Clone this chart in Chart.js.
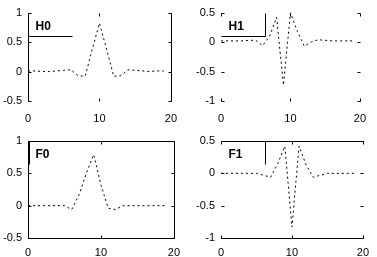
<!DOCTYPE html>
<html>
<head>
<meta charset="utf-8">
<script src="https://cdn.jsdelivr.net/npm/chart.js@4/dist/chart.umd.min.js"></script>
<style>
  html, body { margin: 0; padding: 0; background: #fff; }
  #wrap { position: relative; width: 377px; height: 257px; overflow: hidden; }
  canvas { position: absolute; }
</style>
</head>
<body>
<div id="wrap">
  <canvas id="c-h0" width="188" height="128" style="left:0;top:0"></canvas>
  <canvas id="c-h1" width="189" height="128" style="left:188px;top:0"></canvas>
  <canvas id="c-f0" width="188" height="129" style="left:0;top:128px"></canvas>
  <canvas id="c-f1" width="189" height="129" style="left:188px;top:128px"></canvas>
</div>
<script>
// ==========================================
// Data
// ==========================================

const taps = [0, 1, 2, 3, 4, 5, 6, 7, 8, 9, 10, 11, 12, 13, 14, 15, 16, 17, 18, 19];

const h0 = [0.01, 0.01, 0, 0, 0.01, 0.02, 0.03, -0.07, -0.08, 0.38, 0.82, 0.38, -0.08, -0.07, 0.03, 0.02, 0.01, 0, 0.01, 0.01];
const h1 = [0.02, 0.02, 0.02, 0.02, 0.03, 0.03, -0.06, 0.1, 0.42, -0.73, 0.5, 0.18, -0.07, 0, 0.04, 0.03, 0.02, 0.02, 0.02, 0.02];
const f0 = [0, 0, 0, 0, 0, 0, -0.06, 0.17, 0.5, 0.79, 0.32, -0.04, -0.06, 0, 0, 0, 0, 0, 0, 0];
const f1 = [0, 0, 0, 0, 0, 0, -0.03, -0.06, 0.15, 0.42, -0.83, 0.42, 0.13, -0.06, -0.03, 0, 0, 0, 0, 0];

const xTicks = [0, 10, 20];
const yTicksLow = [-0.5, 0, 0.5, 1];
const yTicksHigh = [-1, -0.5, 0, 0.5];

// ==========================================
// Frame, inward ticks and boxed label
// ==========================================

function line(ctx, x1, y1, x2, y2) {
    ctx.beginPath();
    ctx.moveTo(x1, y1);
    ctx.lineTo(x2, y2);
    ctx.stroke();
}

const framePlugin = {
    id: 'frame',
    afterDraw(chart, args, opts) {
        const ctx = chart.ctx;
        const a = chart.chartArea;
        const L = Math.round(a.left) + 0.5;
        const R = Math.round(a.right) + 0.5;
        const T = Math.round(a.top) + 0.5;
        const B = Math.round(a.bottom) + 0.5;
        const tl = 3;

        ctx.save();
        ctx.strokeStyle = '#000';
        ctx.lineWidth = 1;
        ctx.setLineDash([]);

        if (opts.sides.includes('left')) line(ctx, L, T, L, B);
        if (opts.sides.includes('right')) line(ctx, R, T, R, B);
        if (opts.sides.includes('top')) line(ctx, L, T, R, T);
        if (opts.sides.includes('bottom')) line(ctx, L, B, R, B);

        chart.scales.y.ticks.forEach(function (t) {
            const y = Math.round(chart.scales.y.getPixelForValue(t.value)) + 0.5;
            line(ctx, L, y, L + tl, y);
            line(ctx, R, y, R - tl, y);
        });
        chart.scales.x.ticks.forEach(function (t) {
            const x = Math.round(chart.scales.x.getPixelForValue(t.value)) + 0.5;
            line(ctx, x, T, x, T + tl);
            line(ctx, x, B, x, B - tl);
        });

        // label box in the top left corner
        const bw = 44, bh = 23;
        if (opts.box.includes('left')) { ctx.lineWidth = 2; line(ctx, L + 0.5, T, L + 0.5, T + bh); ctx.lineWidth = 1; }
        if (opts.box.includes('right')) line(ctx, L + bw, T, L + bw, T + bh);
        if (opts.box.includes('bottom')) line(ctx, L, T + bh, L + bw, T + bh);

        ctx.fillStyle = '#000';
        ctx.font = 'bold 12px "Liberation Sans", Arial, sans-serif';
        ctx.textAlign = 'left';
        ctx.textBaseline = 'middle';
        ctx.fillText(opts.label, L + 7, T + 13);
        ctx.restore();
    }
};

// ==========================================
// Chart Setup
// ==========================================

Chart.defaults.font.family = '"Liberation Sans", Arial, sans-serif';
Chart.defaults.font.size = 11;
Chart.defaults.color = '#000';

function createPanel(id, values, yTicks, panel) {
    const ctx = document.getElementById(id).getContext('2d');
    return new Chart(ctx, {
        type: 'line',
        data: {
            labels: taps,
            datasets: [{
                data: taps.map(function (x, i) { return { x: x, y: values[i] }; }),
                borderColor: '#000',
                borderWidth: 1,
                borderDash: [2, 3],
                pointRadius: 0,
                tension: 0,
                fill: false
            }]
        },
        options: {
            responsive: false,
            animation: false,
            layout: { padding: { top: panel.top, right: panel.right, left: 0, bottom: 0 } },
            plugins: {
                legend: { display: false },
                tooltip: { enabled: false },
                frame: { sides: panel.sides, box: panel.box, label: panel.label }
            },
            scales: {
                x: {
                    type: 'linear',
                    min: 0,
                    max: 20,
                    grid: { display: false, drawTicks: false },
                    border: { display: false },
                    afterBuildTicks: function (s) { s.ticks = xTicks.map(function (v) { return { value: v }; }); },
                    ticks: { padding: panel.xpad, maxRotation: 0, callback: function (v) { return String(v); } },
                    afterFit: function (s) { s.height = panel.xh; }
                },
                y: {
                    type: 'linear',
                    min: yTicks[0],
                    max: yTicks[yTicks.length - 1],
                    grid: { display: false, drawTicks: false },
                    border: { display: false },
                    afterBuildTicks: function (s) { s.ticks = yTicks.map(function (v) { return { value: v }; }); },
                    ticks: { padding: 6, callback: function (v) { return String(v); } },
                    afterFit: function (s) { s.width = panel.yw; }
                }
            }
        },
        plugins: [framePlugin]
    });
}

createPanel('c-h0', h0, yTicksLow, { label: 'H0', top: 5, right: 13, yw: 28, xh: 27, xpad: 11, sides: ['left', 'right'], box: ['bottom'] });
createPanel('c-h1', h1, yTicksHigh, { label: 'H1', top: 5, right: 7, yw: 33, xh: 27, xpad: 11, sides: [], box: ['right', 'bottom'] });
createPanel('c-f0', f0, yTicksLow, { label: 'F0', top: 13, right: 13, yw: 28, xh: 19, xpad: 8, sides: ['left', 'right', 'top', 'bottom'], box: ['left'] });
createPanel('c-f1', f1, yTicksHigh, { label: 'F1', top: 13, right: 7, yw: 33, xh: 19, xpad: 8, sides: ['top', 'bottom'], box: ['right'] });
</script>
</body>
</html>
